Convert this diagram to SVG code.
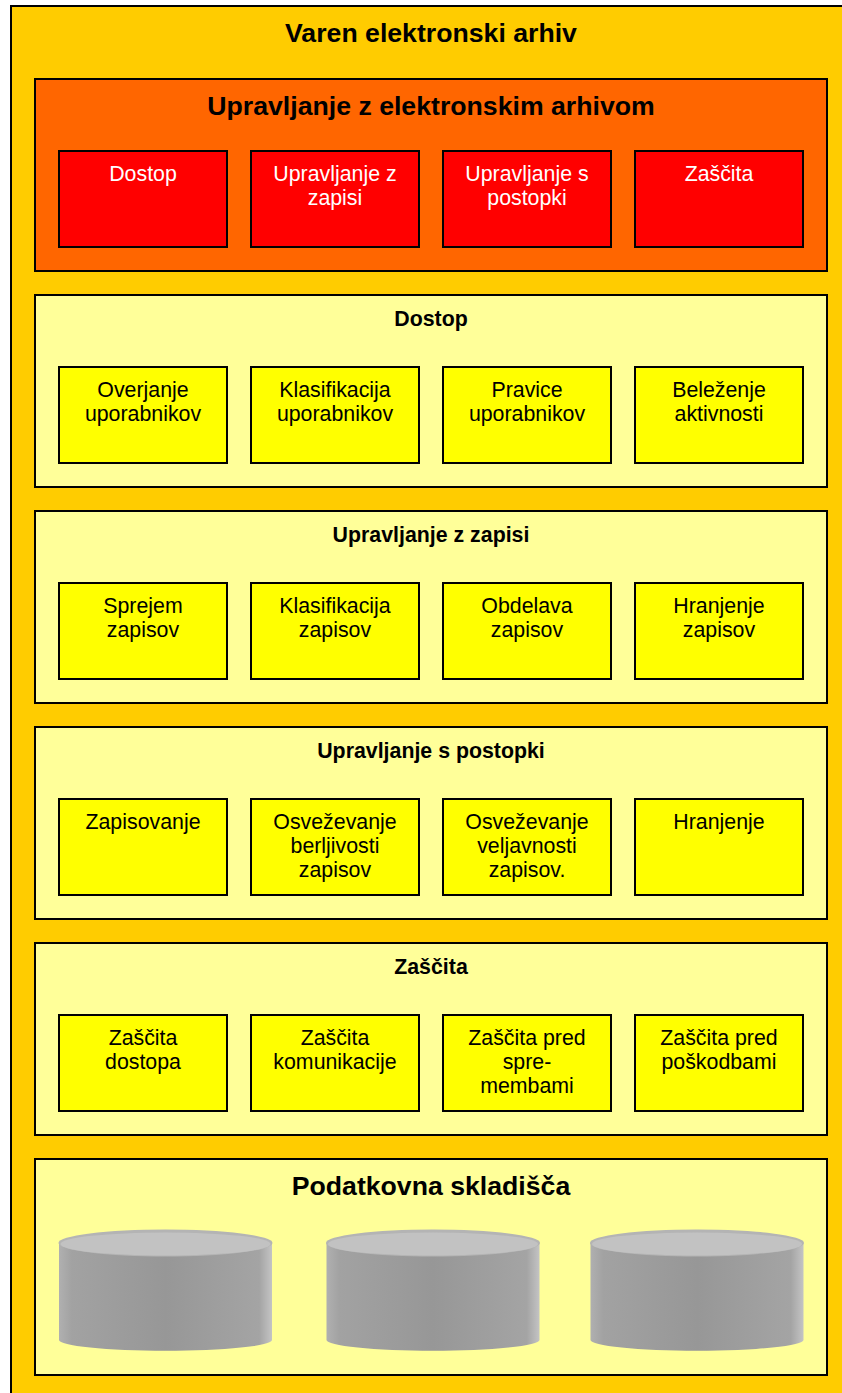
<svg xmlns="http://www.w3.org/2000/svg" width="842" height="1393" viewBox="0 0 842 1393">
<defs>
<style>
text{font-family:"Liberation Sans",Arial,sans-serif;text-anchor:middle;fill:#000}
.b{stroke:#000;stroke-width:2}
.h1{font-size:26.67px;font-weight:bold}
.h2{font-size:21.33px;font-weight:bold}
.t{font-size:21.33px}
.panel{fill:#ffff99}
.box{fill:#ffff00}
.red{fill:#ff0000}
.w{fill:#fff}
</style>
<linearGradient id="cyl" x1="0" x2="1" y1="0" y2="0">
<stop offset="0" stop-color="#b0b0b0"/><stop offset=".06" stop-color="#a2a2a2"/><stop offset=".5" stop-color="#979797"/><stop offset=".94" stop-color="#a4a4a4"/><stop offset="1" stop-color="#c4c4c4"/>
</linearGradient>
<g id="db">
<path d="M.5 0V97A106.500 10.700 0 0 0 213.500 97V0Z" fill="url(#cyl)"/>
<ellipse cx="107" cy="0" rx="107" ry="13.500" fill="#b4b4b4"/>
<ellipse cx="107" cy="1" rx="105" ry="11.500" fill="#c2c2c2"/>
</g>
</defs>
<g id="outer"><rect class="b" x="11" y="6" width="840" height="1400" fill="#ffcc00"/><text class="h1" x="431" y="42">Varen elektronski arhiv</text></g>
<g id="upravljanje"><rect class="b" x="35" y="79" width="792" height="192" fill="#ff6600"/><text class="h1" x="431" y="115">Upravljanje z elektronskim arhivom</text></g>
<g id="m1"><rect class="b red" x="59" y="151" width="168" height="96"/><text class="t w" x="143" y="181">Dostop</text></g>
<g id="m2"><rect class="b red" x="251" y="151" width="168" height="96"/><text class="t w" x="335" y="181">Upravljanje z</text><text class="t w" x="335" y="205">zapisi</text></g>
<g id="m3"><rect class="b red" x="443" y="151" width="168" height="96"/><text class="t w" x="527" y="181">Upravljanje s</text><text class="t w" x="527" y="205">postopki</text></g>
<g id="m4"><rect class="b red" x="635" y="151" width="168" height="96"/><text class="t w" x="719" y="181">Zaščita</text></g>

<g id="dostop"><rect class="b panel" x="35" y="295" width="792" height="192"/><text class="h2" x="431" y="326">Dostop</text></g>
<g id="d1"><rect class="b box" x="59" y="367" width="168" height="96"/><text class="t" x="143" y="397">Overjanje</text><text class="t" x="143" y="421">uporabnikov</text></g>
<g id="d2"><rect class="b box" x="251" y="367" width="168" height="96"/><text class="t" x="335" y="397">Klasifikacija</text><text class="t" x="335" y="421">uporabnikov</text></g>
<g id="d3"><rect class="b box" x="443" y="367" width="168" height="96"/><text class="t" x="527" y="397">Pravice</text><text class="t" x="527" y="421">uporabnikov</text></g>
<g id="d4"><rect class="b box" x="635" y="367" width="168" height="96"/><text class="t" x="719" y="397">Beleženje</text><text class="t" x="719" y="421">aktivnosti</text></g>

<g id="zapisi"><rect class="b panel" x="35" y="511" width="792" height="192"/><text class="h2" x="431" y="542">Upravljanje z zapisi</text></g>
<g id="z1"><rect class="b box" x="59" y="583" width="168" height="96"/><text class="t" x="143" y="613">Sprejem</text><text class="t" x="143" y="637">zapisov</text></g>
<g id="z2"><rect class="b box" x="251" y="583" width="168" height="96"/><text class="t" x="335" y="613">Klasifikacija</text><text class="t" x="335" y="637">zapisov</text></g>
<g id="z3"><rect class="b box" x="443" y="583" width="168" height="96"/><text class="t" x="527" y="613">Obdelava</text><text class="t" x="527" y="637">zapisov</text></g>
<g id="z4"><rect class="b box" x="635" y="583" width="168" height="96"/><text class="t" x="719" y="613">Hranjenje</text><text class="t" x="719" y="637">zapisov</text></g>

<g id="postopki"><rect class="b panel" x="35" y="727" width="792" height="192"/><text class="h2" x="431" y="758">Upravljanje s postopki</text></g>
<g id="p1"><rect class="b box" x="59" y="799" width="168" height="96"/><text class="t" x="143" y="829">Zapisovanje</text></g>
<g id="p2"><rect class="b box" x="251" y="799" width="168" height="96"/><text class="t" x="335" y="829">Osveževanje</text><text class="t" x="335" y="853">berljivosti</text><text class="t" x="335" y="877">zapisov</text></g>
<g id="p3"><rect class="b box" x="443" y="799" width="168" height="96"/><text class="t" x="527" y="829">Osveževanje</text><text class="t" x="527" y="853">veljavnosti</text><text class="t" x="527" y="877">zapisov.</text></g>
<g id="p4"><rect class="b box" x="635" y="799" width="168" height="96"/><text class="t" x="719" y="829">Hranjenje</text></g>

<g id="zascita"><rect class="b panel" x="35" y="943" width="792" height="192"/><text class="h2" x="431" y="974">Zaščita</text></g>
<g id="s1"><rect class="b box" x="59" y="1015" width="168" height="96"/><text class="t" x="143" y="1045">Zaščita</text><text class="t" x="143" y="1069">dostopa</text></g>
<g id="s2"><rect class="b box" x="251" y="1015" width="168" height="96"/><text class="t" x="335" y="1045">Zaščita</text><text class="t" x="335" y="1069">komunikacije</text></g>
<g id="s3"><rect class="b box" x="443" y="1015" width="168" height="96"/><text class="t" x="527" y="1045">Zaščita pred</text><text class="t" x="527" y="1069">spre-</text><text class="t" x="527" y="1093">membami</text></g>
<g id="s4"><rect class="b box" x="635" y="1015" width="168" height="96"/><text class="t" x="719" y="1045">Zaščita pred</text><text class="t" x="719" y="1069">poškodbami</text></g>

<g id="skladisca"><rect class="b panel" x="35" y="1159" width="792" height="216"/><text class="h1" x="431" y="1195">Podatkovna skladišča</text></g>
<g id="db1"><use href="#db" x="58.500" y="1243"/></g>
<g id="db2"><use href="#db" x="326" y="1243"/></g>
<g id="db3"><use href="#db" x="590" y="1243"/></g>
<g id="connectors"></g>
</svg>
